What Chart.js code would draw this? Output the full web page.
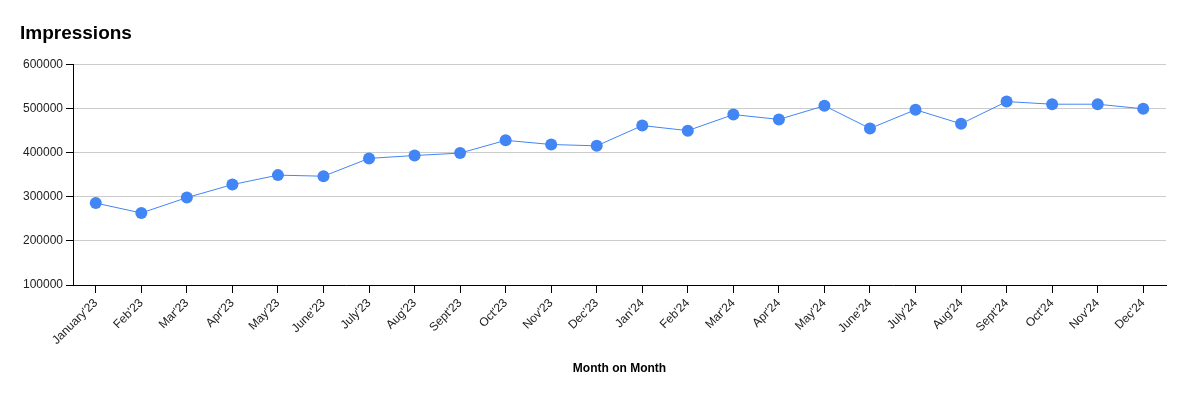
<!DOCTYPE html>
<html>
<head>
<meta charset="utf-8">
<script src="https://cdn.jsdelivr.net/npm/chart.js@4.4.0/dist/chart.umd.min.js"></script>
<style>
  html, body { margin: 0; padding: 0; background: #fff; }
  #wrap { width: 1186px; height: 396px; }
</style>
</head>
<body>
<div id="wrap"><canvas id="grafico" width="1186" height="396"></canvas></div>
<script>
// dados
const meses = [
  "January'23", "Feb'23", "Mar'23", "Apr'23", "May'23", "June'23",
  "July'23", "Aug'23", "Sept'23", "Oct'23", "Nov'23", "Dec'23",
  "Jan'24", "Feb'24", "Mar'24", "Apr'24", "May'24", "June'24",
  "July'24", "Aug'24", "Sept'24", "Oct'24", "Nov'24", "Dec'24"
];
const impressoes = [
  286000, 263500, 298500, 328000, 349500, 347000,
  387500, 394000, 399500, 428500, 419000, 416000,
  462000, 450500, 487000, 476000, 507000, 455500,
  498000, 466000, 516500, 510500, 510500, 500000
];
const yTicks = [100000, 200000, 300000, 400000, 500000, 600000];

const azul = "#4285F4";
Chart.defaults.font.family = "'Liberation Sans', Arial, sans-serif";
Chart.defaults.color = "#222";

new Chart(document.getElementById("grafico").getContext("2d"), {
  type: "line",
  data: {
    labels: meses,
    datasets: [{
      label: "Impressions",
      data: impressoes,
      borderColor: azul,
      backgroundColor: azul,
      borderWidth: 1,
      pointRadius: 6,
      pointBorderWidth: 0,
      pointBackgroundColor: azul,
      tension: 0
    }]
  },
  options: {
    responsive: false,
    animation: false,
    layout: { padding: { left: 20, right: 20, top: 0, bottom: 16 } },
    plugins: {
      legend: { display: false },
      tooltip: { enabled: false },
      title: {
        display: true,
        text: "Impressions",
        align: "start",
        color: "#000",
        font: { size: 19, weight: "bold" },
        padding: { top: 22, bottom: 20 }
      }
    },
    scales: {
      x: {
        offset: true,
        afterFit: (axis) => { axis.height = 95; },
        border: { color: "#000", width: 1 },
        grid: { display: true, drawOnChartArea: false, drawTicks: true, tickLength: 8, tickColor: "#000", offset: false },
        ticks: { color: "#222", font: { size: 12 }, maxRotation: 45, minRotation: 45, autoSkip: false, padding: 3 },
        title: { display: true, text: "Month on Month", color: "#000", font: { size: 12, weight: "bold" }, padding: { top: 9 } }
      },
      y: {
        min: yTicks[0],
        max: yTicks[yTicks.length - 1],
        afterBuildTicks: (axis) => { axis.ticks = yTicks.map((v) => ({ value: v })); },
        afterFit: (axis) => { axis.width = 53; },
        border: { color: "#000", width: 1 },
        grid: { color: "#cccccc", tickColor: "#000", tickLength: 7 },
        ticks: { color: "#222", font: { size: 12 }, padding: 3, callback: (v) => String(v) }
      }
    }
  }
});
</script>
</body>
</html>
